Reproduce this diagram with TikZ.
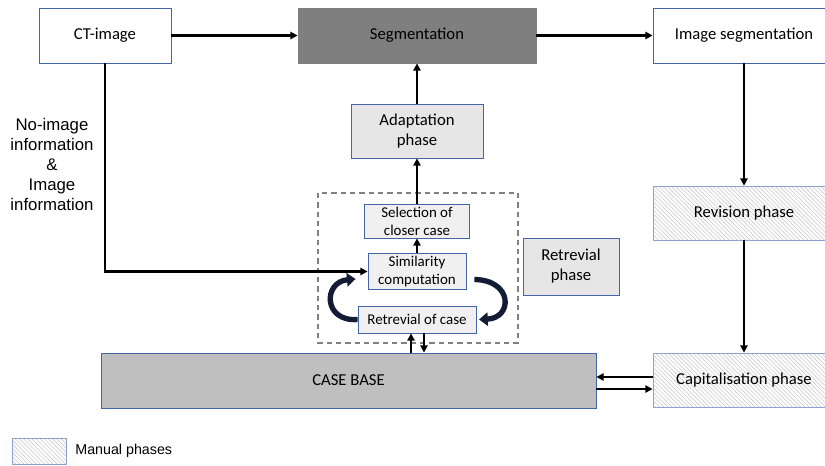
\documentclass[tikz,border=0pt]{standalone}
\usepackage{fontspec}
\setmainfont{Carlito}
\newfontfamily\arialfont{Liberation Sans}
\usetikzlibrary{arrows.meta,positioning,patterns.meta}
\definecolor{boxline}{RGB}{68,100,170}
\definecolor{segfill}{RGB}{127,127,127}
\definecolor{phasefill}{RGB}{231,230,230}
\definecolor{stepfill}{RGB}{240,240,240}
\definecolor{basefill}{RGB}{191,191,191}
\definecolor{hatchline}{RGB}{205,205,205}
\definecolor{turncol}{RGB}{18,28,52}

\begin{document}
\begin{tikzpicture}[
    x=0.75pt, y=-0.75pt,
    every node/.style={font=\fontsize{12.5}{15}\selectfont},
    box/.style={rectangle, draw=boxline, line width=0.6pt, minimum width=99pt, minimum height=41.25pt, align=center, inner sep=2pt},
    stepbox/.style={box, fill=stepfill, font=\fontsize{11.2}{13.5}\selectfont},
    manual/.style={box, draw=boxline!60, pattern={Lines[angle=-45,distance=2.2pt,line width=0.5pt]}, pattern color=hatchline},
    arrow/.style={-{Triangle[length=5.5pt,width=5.5pt]}, line width=1.7pt},
    turnarrow/.style={-{Triangle[length=6.5pt,width=10pt]}, line width=4pt, color=turncol},
    frame/.style={draw=gray, line width=1.2pt, dash pattern=on 4pt off 3pt},
]
\clip (0,0) rectangle (825,465);

% --- TOP ROW ---
\node[box] (ct) at (105,35.5) {CT-image};
\node[box, fill=segfill, draw=segfill, minimum width=178.5pt] (seg) at (417,35.5) {Segmentation};
\node[box, minimum width=136.5pt] (imgseg) at (744,35.5) {Image segmentation};

% Input information
\node[font=\arialfont\fontsize{12.6}{15}\selectfont, align=center] (info) at (52,164) {No-image\\information\\\&\\Image\\information};

% --- RETRIEVAL / ADAPTATION ---
\node[box, fill=phasefill, minimum height=40.5pt] (adapt) at (417,131) {Adaptation\\phase};
\draw[frame] (318,193) rectangle (518,343);
\node[stepbox, minimum width=78.75pt, minimum height=25.5pt] (sel) at (417,221) {Selection of\\closer case};
\node[stepbox, minimum width=73.5pt, minimum height=26.25pt] (sim) at (417,271.5) {Similarity\\computation};
\node[stepbox, minimum width=88.5pt, minimum height=20.25pt] (ret) at (417,319.5) {Retrevial of case};
\node[box, fill=phasefill, minimum width=72pt, minimum height=42.75pt] (retphase) at (571,266.5) {Retrevial\\phase};

% --- CASE BASE ---
\node[box, fill=basefill, minimum width=371.25pt] (cb) at (348.5,380.5) {CASE BASE};

% --- MANUAL PHASES ---
\node[manual, minimum width=136.5pt, minimum height=40.5pt] (rev) at (744,213) {Revision phase};
\node[manual, minimum width=136.5pt, minimum height=40.5pt] (cap) at (744,380) {Capitalisation phase};

% Legend
\node[manual, minimum width=40.5pt, minimum height=19.5pt] (legend) at (39,451) {};
\node[font=\arialfont\fontsize{10.7}{13}\selectfont, right=3.2pt of legend] (legendtext) {Manual phases};

% Main flow arrows
\draw[arrow] (ct) -- (seg);
\draw[arrow] (seg) -- (imgseg);
\draw[arrow] (imgseg) -- (rev);
\draw[arrow] (rev) -- (cap);
\draw[arrow] ([yshift=2.25pt]cap.west) -- ([yshift=2.25pt]cap.west -| cb.east);
\draw[arrow] ([yshift=-6.4pt]cb.east) -- ([yshift=-6.4pt]cb.east -| cap.west);
\draw[arrow] (ct) |- (sim);
\draw[arrow] (sim) -- (sel);
\draw[arrow] (sel) -- (adapt);
\draw[arrow] (adapt) -- (seg);
\draw[arrow] ([xshift=-4.5pt]ret.south |- cb.north) -- ([xshift=-4.5pt]ret.south);
\draw[arrow] ([xshift=5.25pt]ret.south) -- ([xshift=5.25pt]ret.south |- cb.north);

% Retrieval loop
\draw[turnarrow] (ret.west) .. controls (323,322) and (323,282) .. ([xshift=-9pt,yshift=-5.6pt]sim.west);
\draw[turnarrow] ([xshift=6pt,yshift=-6pt]sim.east) .. controls (513,280) and (513,318) .. ([xshift=2pt]ret.east);

\end{tikzpicture}
\end{document}
